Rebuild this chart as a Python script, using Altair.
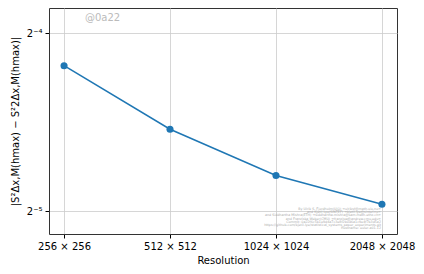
import altair as alt
import pandas as pd

resolutions = [256, 512, 1024, 2048]
values = [0.0551, 0.0430, 0.0359, 0.0321]
x_ticks = [256, 512, 1024, 2048]
y_ticks = [0.0625, 0.03125]
y_tick_labels = ["2⁻⁴", "2⁻⁵"]
credit_lines = [
    "By Ulrik S. Fjordholm(UiO) <ulriksf@math.uio.no>",
    "and Kjetil Lye(SINTEF) <kjetil.lye@sintef.no>",
    "and Siddhartha Mishra(ETH) <siddhartha.mishra@sam.math.ethz.ch>",
    "and Franziska Weber(CMU) <franzisw@andrew.cmu.edu>",
    "Commit: 0a22f6c5b1e9d4a7c3e8f2b0d6a1c9e4f7b3d5a2",
    "https://github.com/kjetil-lye/statistical_systems_paper_experiments.git",
    "Hostname: euler-a01-12",
]

df = pd.DataFrame({"res": resolutions, "val": values})

label_expr = " : ".join(
    [f"datum.value == {v} ? '{l}'" for v, l in zip(y_ticks, y_tick_labels)] + ["''"]
)

x = alt.X(
    "res:Q",
    scale=alt.Scale(type="log", base=2, domain=[232, 2260], nice=False, zero=False),
    axis=alt.Axis(
        values=x_ticks,
        labelExpr="datum.value + ' × ' + datum.value",
        title="Resolution",
        grid=True,
    ),
)
y = alt.Y(
    "val:Q",
    scale=alt.Scale(type="log", base=2, domain=[0.02858, 0.0690], nice=False, zero=False),
    axis=alt.Axis(
        values=y_ticks,
        labelExpr=label_expr,
        title="|S²Δx,M(hmax) − S²2Δx,M(hmax)|",
        grid=True,
    ),
)

base = alt.Chart(df)
line = base.mark_line(color="#1f77b4", strokeWidth=1.5).encode(x=x, y=y)
pts = base.mark_point(filled=True, color="#1f77b4", size=50, opacity=1).encode(x=x, y=y)
data_layer = alt.layer(line, pts)

wm = alt.Chart(pd.DataFrame({"t": ["@0a22"]})).mark_text(
    color="#bbbbbb", fontSize=10, align="left", baseline="middle", font="DejaVu Sans"
).encode(text="t:N", x=alt.value(36), y=alt.value(10))

cdf = pd.DataFrame({"t": credit_lines, "i": list(range(len(credit_lines)))})
credit = alt.Chart(cdf).mark_text(
    color="#aaaaaa", fontSize=3.3, align="right", baseline="middle", font="DejaVu Sans"
).encode(
    text="t:N",
    x=alt.value(332),
    y=alt.Y("i:O", scale=alt.Scale(range=[199, 222]), axis=None),
)

chart = (
    alt.layer(data_layer, wm, credit)
    .resolve_scale(y="independent")
    .properties(
        width=348,
        height=226,
        autosize=alt.AutoSizeParams(type="none"),
        padding={"left": 41, "top": 0, "right": 19, "bottom": 38},
    )
    .configure_view(stroke="#333333", strokeWidth=1)
    .configure_axis(
        labelFont="DejaVu Sans",
        titleFont="DejaVu Sans",
        labelFontSize=10,
        titleFontSize=10,
        labelColor="#000000",
        titleColor="#000000",
        titleFontWeight="normal",
        gridColor="#cccccc",
        gridWidth=0.8,
        tickColor="#000000",
        tickSize=4,
        domain=False,
    )
    .configure_axisY(titlePadding=6, labelPadding=3)
    .configure_axisX(titlePadding=4, labelPadding=3)
)

chart.save("out.html", embed_options={"renderer": "svg", "actions": False})
